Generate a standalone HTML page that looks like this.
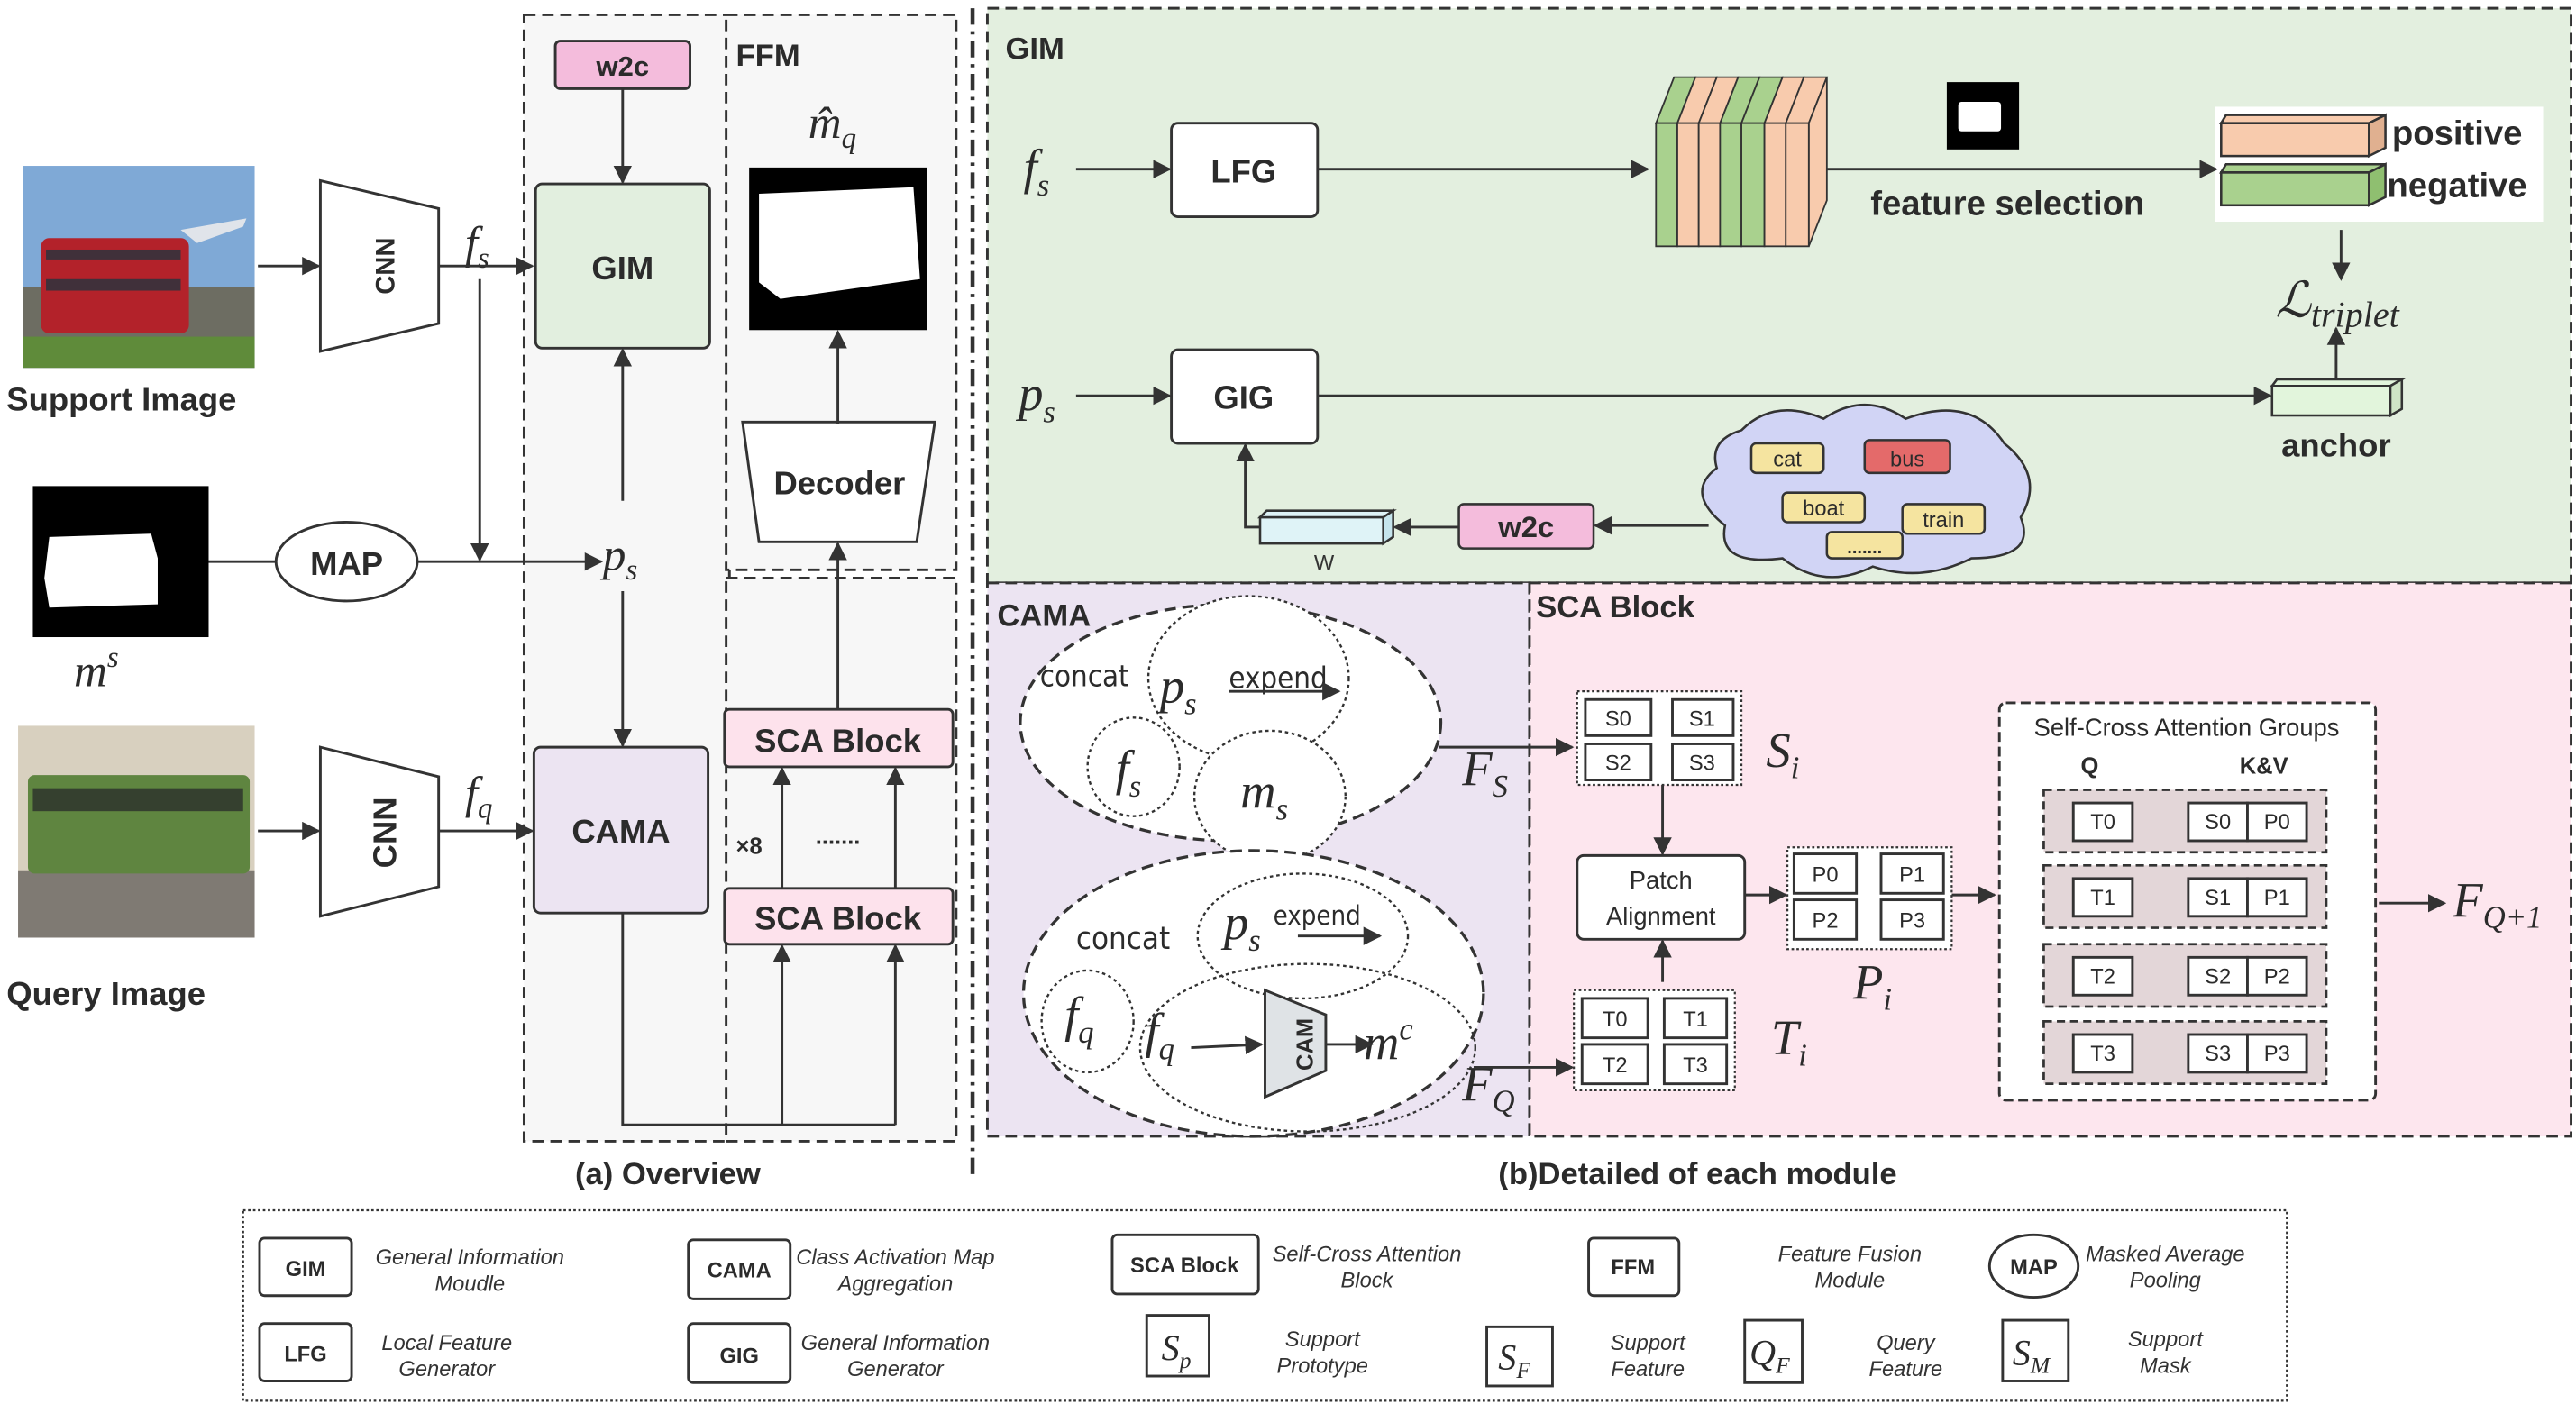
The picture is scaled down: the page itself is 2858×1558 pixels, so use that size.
<!DOCTYPE html>
<html><head><meta charset="utf-8"><style>
html,body{margin:0;padding:0;background:#fff;}
svg{display:block;}
.b{font-family:"Liberation Sans","DejaVu Sans",sans-serif;font-weight:bold;fill:#2b2b2b;}
.m{font-family:"Liberation Serif",serif;font-style:italic;fill:#2b2b2b;}
.l{font-family:"Liberation Sans",sans-serif;font-style:italic;fill:#333;font-size:13px;}
</style></head><body>
<svg width="2858" height="1558" viewBox="0 0 1568 855" preserveAspectRatio="none" xmlns="http://www.w3.org/2000/svg">
<defs>
<marker id="a" viewBox="0 0 10 10" refX="9" refY="5" markerWidth="7" markerHeight="7" orient="auto-start-reverse"><path d="M0,0 L10,5 L0,10 z" fill="#333"/></marker>
</defs>
<rect width="1568" height="855" fill="#fff"/>
<g stroke="#333" stroke-width="1.6" fill="none">
<rect x="319" y="9" width="125" height="686" fill="#f7f7f7" stroke-dasharray="7,4"/>
<rect x="442" y="9" width="140" height="338" fill="#f7f7f7" stroke-dasharray="7,4"/>
<rect x="442" y="352" width="140" height="343" fill="#f7f7f7" stroke-dasharray="7,4"/>
<line x1="592" y1="5" x2="592" y2="715" stroke-dasharray="10,4,2,4" stroke-width="2.5"/>
<rect x="601" y="5" width="964" height="350" fill="#e3efdf" stroke-dasharray="7,4"/>
<rect x="601" y="355" width="330" height="337" fill="#ece4f2" stroke-dasharray="7,4"/>
<rect x="931" y="355" width="634" height="337" fill="#fde6ee" stroke-dasharray="7,4"/>
</g>
<!-- Support image -->
<rect x="14" y="101" width="141" height="123" fill="#7fa9d6"/>
<rect x="14" y="175" width="141" height="49" fill="#6d6d62"/>
<rect x="14" y="205" width="141" height="19" fill="#5f8b3a"/>
<rect x="25" y="145" width="90" height="58" rx="5" fill="#b3222a"/>
<rect x="28" y="152" width="82" height="6" fill="#40303a"/>
<rect x="28" y="170" width="82" height="7" fill="#40303a"/>
<path d="M110,140 L150,133 L148,138 L120,148 z" fill="#e0e4ea"/>
<!-- Mask -->
<rect x="20" y="296" width="107" height="92" fill="#000"/>
<path d="M30,327 L92,325 L96,340 L96,368 L30,370 L27,352 z" fill="#fff"/>
<!-- Query image -->
<rect x="11" y="442" width="144" height="129" fill="#d8d0bf"/>
<rect x="11" y="530" width="144" height="41" fill="#7f7a73"/>
<rect x="17" y="472" width="135" height="60" rx="4" fill="#5f8540"/>
<rect x="20" y="480" width="128" height="14" fill="#35402f"/>
<text x="4" y="250" class="b" font-size="20">Support Image</text>
<text x="4" y="612" class="b" font-size="20">Query Image</text>
<g stroke="#333" stroke-width="1.6" fill="#fff">
<polygon points="195,110 267,127 267,197 195,214"/>
<polygon points="195,455 267,473 267,540 195,558"/>
<ellipse cx="211" cy="342" rx="43" ry="24"/>
<rect x="338" y="25" width="82" height="29" rx="3" fill="#f4bcdc"/>
<rect x="326" y="112" width="106" height="100" rx="4" fill="#e2efdf"/>
<rect x="325" y="455" width="106" height="101" rx="4" fill="#ece4f2"/>
<polygon points="452,257 569,257 558,330 462,330"/>
<rect x="441" y="432" width="139" height="35" rx="3" fill="#fde2ec"/>
<rect x="441" y="541" width="139" height="34" rx="3" fill="#fde2ec"/>
</g>
<rect x="456" y="102" width="108" height="99" fill="#000"/>
<path d="M462,118 L556,114 L560,170 L475,182 L462,172 z" fill="#fff"/>
<text transform="translate(240,162) rotate(-90)" text-anchor="middle" class="b" font-size="16">CNN</text>
<text transform="translate(241,507) rotate(-90)" text-anchor="middle" class="b" font-size="20">CNN</text>
<text x="211" y="350" text-anchor="middle" class="b" font-size="20">MAP</text>
<text x="379" y="46" text-anchor="middle" class="b" font-size="17">w2c</text>
<text x="379" y="170" text-anchor="middle" class="b" font-size="20">GIM</text>
<text x="378" y="513" text-anchor="middle" class="b" font-size="20">CAMA</text>
<text x="511" y="301" text-anchor="middle" class="b" font-size="20">Decoder</text>
<text x="510" y="458" text-anchor="middle" class="b" font-size="20">SCA Block</text>
<text x="510" y="566" text-anchor="middle" class="b" font-size="20">SCA Block</text>
<text x="448" y="40" class="b" font-size="19">FFM</text>
<text x="448" y="520" class="b" font-size="14">×8</text>
<text x="510" y="514" text-anchor="middle" class="b" font-size="14">.......</text>
<text x="283" y="157" class="m" font-size="28">f<tspan font-size="18" dy="6">s</tspan></text>
<text x="283" y="492" class="m" font-size="28">f<tspan font-size="18" dy="6">q</tspan></text>
<text x="367" y="347" class="m" font-size="28">p<tspan font-size="18" dy="6">s</tspan></text>
<text x="45" y="418" class="m" font-size="28">m<tspan font-size="18" dy="-12">s</tspan></text>
<text x="492" y="84" class="m" font-size="28">m̂<tspan font-size="18" dy="6">q</tspan></text>
<g stroke="#333" stroke-width="1.6" fill="none">
<line x1="157" y1="162" x2="194" y2="162" marker-end="url(#a)"/>
<line x1="267" y1="162" x2="324" y2="162" marker-end="url(#a)"/>
<line x1="292" y1="170" x2="292" y2="341" marker-end="url(#a)"/>
<line x1="127" y1="342" x2="168" y2="342"/>
<line x1="254" y1="342" x2="366" y2="342" marker-end="url(#a)"/>
<line x1="157" y1="506" x2="194" y2="506" marker-end="url(#a)"/>
<line x1="267" y1="506" x2="324" y2="506" marker-end="url(#a)"/>
<line x1="379" y1="54" x2="379" y2="111" marker-end="url(#a)"/>
<line x1="379" y1="305" x2="379" y2="213" marker-end="url(#a)"/>
<line x1="379" y1="360" x2="379" y2="454" marker-end="url(#a)"/>
<line x1="510" y1="258" x2="510" y2="202" marker-end="url(#a)"/>
<line x1="510" y1="432" x2="510" y2="331" marker-end="url(#a)"/>
<line x1="476" y1="541" x2="476" y2="468" marker-end="url(#a)"/>
<line x1="545" y1="541" x2="545" y2="468" marker-end="url(#a)"/>
<line x1="476" y1="685" x2="476" y2="576" marker-end="url(#a)"/>
<line x1="545" y1="685" x2="545" y2="576" marker-end="url(#a)"/>
<polyline points="379,556 379,685 545,685"/>
</g>
<text x="350" y="721" class="b" font-size="19">(a) Overview</text>
<text x="912" y="721" class="b" font-size="19">(b)Detailed  of each module</text>

<text x="612" y="36" class="b" font-size="19">GIM</text>
<text x="623" y="112" class="m" font-size="30">f<tspan font-size="19" dy="7">s</tspan></text>
<text x="620" y="250" class="m" font-size="30">p<tspan font-size="19" dy="7">s</tspan></text>
<g stroke="#333" stroke-width="1.6" fill="#fff">
<rect x="713" y="75" width="89" height="57" rx="4"/>
<rect x="713" y="213" width="89" height="57" rx="4"/>
</g>
<text x="757" y="111" text-anchor="middle" class="b" font-size="20">LFG</text>
<text x="757" y="249" text-anchor="middle" class="b" font-size="20">GIG</text>
<g stroke="#333" stroke-width="1">
<polygon points="1008,75 1019,47 1032,47 1021,75" fill="#a9d18e"/>
<polygon points="1021,75 1032,47 1045,47 1034,75" fill="#f8cbad"/>
<polygon points="1034,75 1045,47 1058,47 1047,75" fill="#f8cbad"/>
<polygon points="1047,75 1058,47 1071,47 1060,75" fill="#a9d18e"/>
<polygon points="1060,75 1071,47 1085,47 1074,75" fill="#a9d18e"/>
<polygon points="1074,75 1085,47 1098,47 1087,75" fill="#f8cbad"/>
<polygon points="1087,75 1098,47 1112,47 1101,75" fill="#f8cbad"/>
<polygon points="1101,75 1112,47 1112,122 1101,150" fill="#f8cbad"/>
<rect x="1008" y="75" width="13" height="75" fill="#a9d18e"/>
<rect x="1021" y="75" width="13" height="75" fill="#f8cbad"/>
<rect x="1034" y="75" width="13" height="75" fill="#f8cbad"/>
<rect x="1047" y="75" width="13" height="75" fill="#a9d18e"/>
<rect x="1060" y="75" width="14" height="75" fill="#a9d18e"/>
<rect x="1074" y="75" width="13" height="75" fill="#f8cbad"/>
<rect x="1087" y="75" width="14" height="75" fill="#f8cbad"/>
</g>
<rect x="1185" y="50" width="44" height="41" fill="#000"/>
<rect x="1192" y="62" width="26" height="18" rx="2" fill="#fff"/>
<text x="1222" y="131" text-anchor="middle" class="b" font-size="21">feature selection</text>
<rect x="1348" y="65" width="200" height="70" fill="#fff"/>
<g stroke="#333" stroke-width="1.4">
<rect x="1352" y="75" width="90" height="20" fill="#f8cbad"/>
<polygon points="1352,75 1355,70 1452,70 1442,75" fill="#f8cbad"/>
<polygon points="1442,75 1452,70 1452,90 1442,95" fill="#e0b090"/>
<rect x="1352" y="105" width="90" height="20" fill="#a9d18e"/>
<polygon points="1352,105 1355,100 1452,100 1442,105" fill="#a9d18e"/>
<polygon points="1442,105 1452,100 1452,120 1442,125" fill="#8fbf70"/>
<rect x="1383" y="235" width="72" height="18" fill="#e2f5dc"/>
<polygon points="1383,235 1386,231 1462,231 1455,235" fill="#e2f5dc"/>
<polygon points="1455,235 1462,231 1462,249 1455,253" fill="#cfe5c6"/>
</g>
<text x="1456" y="88" class="b" font-size="21">positive</text>
<text x="1453" y="120" class="b" font-size="21">negative</text>
<text x="1422" y="278" text-anchor="middle" class="b" font-size="20">anchor</text>
<text x="1385" y="193" class="m" font-size="30">ℒ<tspan font-size="22" dy="6">triplet</tspan></text>
<path d="M1060,262 Q1080,242 1110,255 Q1135,238 1160,255 Q1200,240 1220,270 Q1245,290 1230,315 Q1240,340 1200,340 Q1170,355 1140,345 Q1110,360 1085,340 Q1045,345 1050,320 Q1025,300 1045,285 Q1040,268 1060,262 z" fill="#d1d4f5" stroke="#333" stroke-width="1.4"/>
<g stroke="#333" stroke-width="1.4">
<rect x="1066" y="270" width="44" height="18" rx="3" fill="#f5e4a0"/>
<rect x="1135" y="268" width="52" height="20" rx="3" fill="#e46a6a"/>
<rect x="1085" y="300" width="50" height="18" rx="3" fill="#f5e4a0"/>
<rect x="1158" y="307" width="50" height="18" rx="3" fill="#f5e4a0"/>
<rect x="1112" y="324" width="46" height="16" rx="3" fill="#f5e4a0"/>
<rect x="888" y="307" width="82" height="27" rx="3" fill="#f4bcdc"/>
<rect x="767" y="315" width="75" height="16" fill="#dff3f7"/>
<polygon points="767,315 771,311 848,311 842,315" fill="#dff3f7"/>
<polygon points="842,315 848,311 848,327 842,331" fill="#c5e4ec"/>
</g>
<text x="1088" y="284" text-anchor="middle" class="b" font-size="13" style="font-weight:normal">cat</text>
<text x="1161" y="284" text-anchor="middle" class="b" font-size="13" style="font-weight:normal">bus</text>
<text x="1110" y="314" text-anchor="middle" class="b" font-size="13" style="font-weight:normal">boat</text>
<text x="1183" y="321" text-anchor="middle" class="b" font-size="13" style="font-weight:normal">train</text>
<text x="1135" y="337" text-anchor="middle" class="b" font-size="11">.......</text>
<text x="929" y="327" text-anchor="middle" class="b" font-size="18">w2c</text>
<text x="806" y="347" text-anchor="middle" font-family="Liberation Sans" font-size="13" fill="#333">W</text>
<g stroke="#333" stroke-width="1.6" fill="none">
<line x1="655" y1="103" x2="712" y2="103" marker-end="url(#a)"/>
<line x1="802" y1="103" x2="1003" y2="103" marker-end="url(#a)"/>
<line x1="1112" y1="103" x2="1349" y2="103" marker-end="url(#a)"/>
<line x1="655" y1="241" x2="712" y2="241" marker-end="url(#a)"/>
<line x1="802" y1="241" x2="1382" y2="241" marker-end="url(#a)"/>
<line x1="1425" y1="140" x2="1425" y2="170" marker-end="url(#a)"/>
<line x1="1422" y1="231" x2="1422" y2="200" marker-end="url(#a)"/>
<line x1="1040" y1="320" x2="971" y2="320" marker-end="url(#a)"/>
<line x1="888" y1="321" x2="849" y2="321" marker-end="url(#a)"/>
<polyline points="767,321 758,321 758,271" marker-end="url(#a)"/>
</g>

<text x="607" y="381" class="b" font-size="19">CAMA</text>
<text x="935" y="376" class="b" font-size="19">SCA Block</text>
<g stroke="#333" fill="#fff">
<ellipse cx="749" cy="440" rx="128" ry="72" stroke-width="1.8" stroke-dasharray="7,4"/>
<ellipse cx="760" cy="413" rx="61" ry="50" stroke-width="1.3" stroke-dasharray="2,2"/>
<ellipse cx="690" cy="467" rx="28" ry="30" stroke-width="1.3" stroke-dasharray="2,2"/>
<ellipse cx="773" cy="485" rx="46" ry="40" stroke-width="1.3" stroke-dasharray="2,2"/>
<ellipse cx="763" cy="605" rx="140" ry="87" stroke-width="1.8" stroke-dasharray="7,4"/>
<ellipse cx="793" cy="570" rx="64" ry="38" stroke-width="1.3" stroke-dasharray="2,2"/>
<ellipse cx="662" cy="622" rx="28" ry="31" stroke-width="1.3" stroke-dasharray="2,2"/>
<ellipse cx="796" cy="638" rx="102" ry="51" stroke-width="1.3" stroke-dasharray="2,2" fill="none"/>
<polygon points="770,603 807,618 807,652 770,668" fill="#dfe3e6" stroke-width="1.6"/>
</g>
<text transform="translate(799,636) rotate(-90)" text-anchor="middle" class="b" font-size="14">CAM</text>
<text x="633" y="418" class="b" font-size="18" style="font-weight:normal;font-family:'DejaVu Sans Condensed','Liberation Sans Narrow',sans-serif">concat</text>
<text x="748" y="419" class="b" font-size="18" style="font-weight:normal;font-family:'DejaVu Sans Condensed','Liberation Sans Narrow',sans-serif">expend</text>
<text x="655" y="578" class="b" font-size="19" style="font-weight:normal;font-family:'DejaVu Sans Condensed','Liberation Sans Narrow',sans-serif">concat</text>
<text x="775" y="563" class="b" font-size="16" style="font-weight:normal;font-family:'DejaVu Sans Condensed','Liberation Sans Narrow',sans-serif">expend</text>
<text x="706" y="428" class="m" font-size="30">p<tspan font-size="19" dy="7">s</tspan></text>
<text x="679" y="478" class="m" font-size="30">f<tspan font-size="19" dy="7">s</tspan></text>
<text x="755" y="492" class="m" font-size="30">m<tspan font-size="19" dy="7">s</tspan></text>
<text x="745" y="572" class="m" font-size="30">p<tspan font-size="19" dy="7">s</tspan></text>
<text x="648" y="628" class="m" font-size="30">f<tspan font-size="19" dy="7">q</tspan></text>
<text x="697" y="638" class="m" font-size="30">f<tspan font-size="19" dy="7">q</tspan></text>
<text x="830" y="645" class="m" font-size="30">m<tspan font-size="19" dy="-12">c</tspan></text>
<text x="890" y="478" class="m" font-size="30">F<tspan font-size="19" dy="7">S</tspan></text>
<text x="890" y="670" class="m" font-size="30">F<tspan font-size="19" dy="7">Q</tspan></text>
<g stroke="#333" stroke-width="1.6" fill="none">
<line x1="748" y1="421" x2="815" y2="421" marker-end="url(#a)"/>
<line x1="790" y1="570" x2="840" y2="570" marker-end="url(#a)"/>
<line x1="725" y1="638" x2="768" y2="636" marker-end="url(#a)"/>
<line x1="807" y1="636" x2="835" y2="636" marker-end="url(#a)"/>
<line x1="876" y1="455" x2="957" y2="455" marker-end="url(#a)"/>
<line x1="897" y1="650" x2="957" y2="650" marker-end="url(#a)"/>
<line x1="1012" y1="478" x2="1012" y2="520" marker-end="url(#a)"/>
<line x1="1012" y1="598" x2="1012" y2="573" marker-end="url(#a)"/>
<line x1="1062" y1="545" x2="1087" y2="545" marker-end="url(#a)"/>
<line x1="1188" y1="545" x2="1214" y2="545" marker-end="url(#a)"/>
<line x1="1448" y1="550" x2="1488" y2="550" marker-end="url(#a)"/>
</g>
<g stroke="#333" fill="#fff">
<rect x="960" y="421" width="100" height="57" stroke-width="1.2" stroke-dasharray="1.5,1.5"/>
<rect x="958" y="603" width="98" height="61" stroke-width="1.2" stroke-dasharray="1.5,1.5"/>
<rect x="1088" y="516" width="100" height="62" stroke-width="1.2" stroke-dasharray="1.5,1.5"/>
<rect x="960" y="521" width="102" height="51" rx="4" stroke-width="1.6"/>
<g stroke-width="1.6">
<rect x="965" y="426" width="40" height="22"/><rect x="1018" y="426" width="37" height="22"/>
<rect x="965" y="453" width="40" height="22"/><rect x="1018" y="453" width="37" height="22"/>
<rect x="963" y="608" width="40" height="24"/><rect x="1013" y="608" width="38" height="24"/>
<rect x="963" y="636" width="40" height="24"/><rect x="1013" y="636" width="38" height="24"/>
<rect x="1092" y="520" width="38" height="24"/><rect x="1145" y="520" width="38" height="24"/>
<rect x="1092" y="548" width="38" height="24"/><rect x="1145" y="548" width="38" height="24"/>
</g>
<rect x="1217" y="428" width="229" height="242" rx="4" stroke-width="1.6" stroke-dasharray="6,3"/>
</g>
<g class="b" font-size="13" text-anchor="middle" style="font-weight:normal">
<text x="985" y="442">S0</text><text x="1036" y="442">S1</text><text x="985" y="469">S2</text><text x="1036" y="469">S3</text>
<text x="983" y="625">T0</text><text x="1032" y="625">T1</text><text x="983" y="653">T2</text><text x="1032" y="653">T3</text>
<text x="1111" y="537">P0</text><text x="1164" y="537">P1</text><text x="1111" y="565">P2</text><text x="1164" y="565">P3</text>
</g>
<text x="1011" y="541" text-anchor="middle" class="b" font-size="15" style="font-weight:normal">Patch</text>
<text x="1011" y="563" text-anchor="middle" class="b" font-size="15" style="font-weight:normal">Alignment</text>
<text x="1075" y="467" class="m" font-size="30">S<tspan font-size="19" dy="7">i</tspan></text>
<text x="1078" y="642" class="m" font-size="30">T<tspan font-size="19" dy="7">i</tspan></text>
<text x="1128" y="608" class="m" font-size="30">P<tspan font-size="19" dy="7">i</tspan></text>
<text x="1493" y="558" class="m" font-size="30">F<tspan font-size="19" dy="7">Q+1</tspan></text>
<text x="1331" y="448" text-anchor="middle" class="b" font-size="15" style="font-weight:normal">Self-Cross Attention Groups</text>
<text x="1272" y="471" text-anchor="middle" class="b" font-size="14">Q</text>
<text x="1378" y="471" text-anchor="middle" class="b" font-size="14">K&amp;V</text>
<g stroke="#333">
<rect x="1244" y="481" width="172" height="38" fill="#e3d6d8" stroke-width="1.5" stroke-dasharray="5,3"/>
<rect x="1244" y="527" width="172" height="38" fill="#e3d6d8" stroke-width="1.5" stroke-dasharray="5,3"/>
<rect x="1244" y="575" width="172" height="38" fill="#e3d6d8" stroke-width="1.5" stroke-dasharray="5,3"/>
<rect x="1244" y="622" width="172" height="38" fill="#e3d6d8" stroke-width="1.5" stroke-dasharray="5,3"/>
<g fill="#fff" stroke-width="1.6">
<rect x="1262" y="489" width="36" height="23"/><rect x="1332" y="489" width="36" height="23"/><rect x="1368" y="489" width="36" height="23"/>
<rect x="1262" y="535" width="36" height="23"/><rect x="1332" y="535" width="36" height="23"/><rect x="1368" y="535" width="36" height="23"/>
<rect x="1262" y="583" width="36" height="23"/><rect x="1332" y="583" width="36" height="23"/><rect x="1368" y="583" width="36" height="23"/>
<rect x="1262" y="630" width="36" height="23"/><rect x="1332" y="630" width="36" height="23"/><rect x="1368" y="630" width="36" height="23"/>
</g></g>
<g class="b" font-size="13" text-anchor="middle" style="font-weight:normal">
<text x="1280" y="505">T0</text><text x="1350" y="505">S0</text><text x="1386" y="505">P0</text>
<text x="1280" y="551">T1</text><text x="1350" y="551">S1</text><text x="1386" y="551">P1</text>
<text x="1280" y="599">T2</text><text x="1350" y="599">S2</text><text x="1386" y="599">P2</text>
<text x="1280" y="646">T3</text><text x="1350" y="646">S3</text><text x="1386" y="646">P3</text>
</g>

<rect x="148" y="737" width="1244" height="116" fill="none" stroke="#333" stroke-width="1.2" stroke-dasharray="1.5,1.5"/>
<g stroke="#333" stroke-width="1.6" fill="#fff">
<rect x="158" y="754" width="56" height="35" rx="3"/>
<rect x="419" y="755" width="62" height="36" rx="3"/>
<rect x="677" y="752" width="89" height="36" rx="3"/>
<rect x="967" y="754" width="55" height="35" rx="3"/>
<ellipse cx="1238" cy="771" rx="27" ry="19"/>
<rect x="158" y="806" width="56" height="35" rx="3"/>
<rect x="419" y="806" width="62" height="36" rx="3"/>
<rect x="698" y="801" width="38" height="37"/>
<rect x="905" y="808" width="40" height="36"/>
<rect x="1062" y="804" width="35" height="38"/>
<rect x="1219" y="804" width="40" height="37"/>
</g>
<g class="b" font-size="13" text-anchor="middle">
<text x="186" y="777">GIM</text><text x="450" y="778">CAMA</text><text x="721" y="775">SCA Block</text><text x="994" y="776">FFM</text><text x="1238" y="776">MAP</text>
<text x="186" y="829">LFG</text><text x="450" y="830">GIG</text>
</g>
<text x="707" y="828" class="m" font-size="22">S<tspan font-size="14" dy="5">p</tspan></text>
<text x="912" y="834" class="m" font-size="22">S<tspan font-size="14" dy="5">F</tspan></text>
<text x="1065" y="831" class="m" font-size="22">Q<tspan font-size="14" dy="5">F</tspan></text>
<text x="1225" y="831" class="m" font-size="22">S<tspan font-size="14" dy="5">M</tspan></text>
<g class="l" text-anchor="middle">
<text x="286" y="770">General  Information</text><text x="286" y="786">Moudle</text>
<text x="545" y="770">Class Activation Map</text><text x="545" y="786">Aggregation</text>
<text x="832" y="768">Self-Cross Attention</text><text x="832" y="784">Block</text>
<text x="1126" y="768">Feature Fusion</text><text x="1126" y="784">Module</text>
<text x="1318" y="768">Masked Average</text><text x="1318" y="784">Pooling</text>
<text x="272" y="822">Local Feature</text><text x="272" y="838">Generator</text>
<text x="545" y="822">General Information</text><text x="545" y="838">Generator</text>
<text x="805" y="820">Support</text><text x="805" y="836">Prototype</text>
<text x="1003" y="822">Support</text><text x="1003" y="838">Feature</text>
<text x="1160" y="822">Query</text><text x="1160" y="838">Feature</text>
<text x="1318" y="820">Support</text><text x="1318" y="836">Mask</text>
</g>
</svg>
</body></html>
